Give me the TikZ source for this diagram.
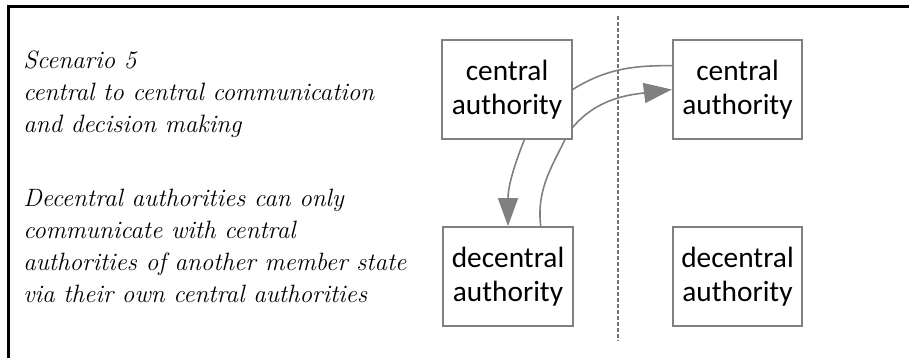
\documentclass[tikz,border=0pt]{standalone}
\usepackage{fontspec}
\newfontfamily\boxfont{Carlito}
\usetikzlibrary{arrows.meta, positioning}
\definecolor{myGray}{RGB}{128,128,128}

\begin{document}
\begin{tikzpicture}[x=0.75pt, y=-0.75pt, every node/.style={font=\fontsize{18.8}{24}\selectfont\itshape}, auth/.style={draw, myGray, line width=1.5pt, text=black, fill=white, minimum width=97pt, minimum height=74pt, align=center, font=\boxfont\fontsize{22}{25.5}\selectfont}, link/.style={myGray, line width=1.2pt}, head/.style={-{Triangle[length=21pt, width=15pt]}}]
		\useasboundingbox (0,0) rectangle (909,358);
		% Frame
		\draw[line width=2.25pt] (8,358) |- (909,6);
		% Scenario text (placed at the baseline of its last line)
		\node[anchor=base west, align=left, inner sep=0pt] (scen) at (23,132) {Scenario 5\\central to central communication\\and decision making};
		\node[anchor=base west, align=left, inner sep=0pt] (note) at (23,302) {Decentral authorities can only\\communicate with central\\authorities of another member state\\via their own central authorities};
		% Border between member states
		\coordinate (bTop) at (618,16);
		\coordinate (bBot) at (618,341);
		\draw[myGray!90!black, line width=1.1pt, dash pattern=on 3pt off 1.5pt] (bTop) -- (bBot);
		% Authorities
		\node[auth] (cl) at (507,89.5) {central\\authority};
		\node[auth] (cr) at (737.5,89.5) {central\\authority};
		\node[auth] (dl) at (508,276.5) {decentral\\authority};
		\node[auth] (dr) at (737.5,276.5) {decentral\\authority};
		% Central to central
		\draw[link] (cl.east) .. controls +(35,-22) and +(-35,0) .. (cr.160);
		\draw[link, head] (cl.-30) .. controls +(25,-30) and +(-40,5) .. (cr.west);
		% Central to decentral
		\draw[link, head] (cl.-71) .. controls +(-10,25) and +(0,-40) .. (dl.north);
		\draw[link] (dl.57) .. controls +(-4,-35) and +(-15,30) .. (cl.-41);
	\end{tikzpicture}
\end{document}
